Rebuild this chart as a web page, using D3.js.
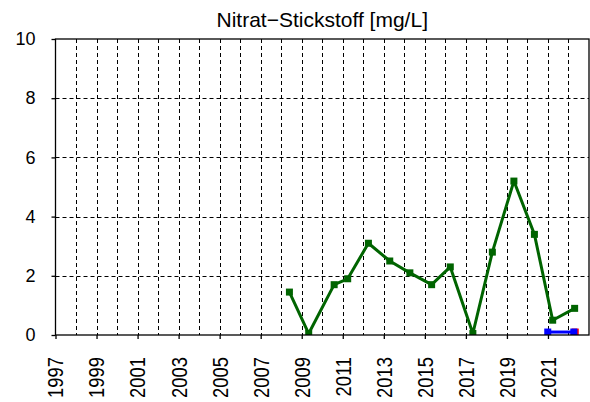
<!DOCTYPE html>
<html>
<head>
<meta charset="utf-8">
<script src="https://cdn.jsdelivr.net/npm/d3@7"></script>
<style>
  html, body { margin: 0; padding: 0; background: #fff; }
  svg { display: block; font-family: "Liberation Sans", Arial, Helvetica, sans-serif; }
</style>
</head>
<body>
<svg id="chart" width="590" height="402"></svg>
<script>
// Nitrate nitrogen measurements (sample date as decimal year, value in mg/L)
const nitratYears  = [2008.40, 2009.34, 2010.58, 2011.24, 2012.25, 2013.29, 2014.27, 2015.33, 2016.24, 2017.34, 2018.29, 2019.34, 2020.34, 2021.23, 2022.30];
const nitratValues = [1.45, 0.05, 1.7, 1.9, 3.1, 2.5, 2.1, 1.7, 2.3, 0.05, 2.8, 5.2, 3.4, 0.5, 0.9];

// Second station (blue) and third station (red)
const blueYears  = [2020.99, 2022.26];
const blueValues = [0.1, 0.1];
const redYears   = [2022.33];
const redValues  = [0.1];

const yTicks = [0, 2, 4, 6, 8, 10];
const xTickLabels = ["1997", "1999", "2001", "2003", "2005", "2007", "2009", "2011", "2013", "2015", "2017", "2019", "2021"];
const gridYears = d3.range(1998, 2023);
const title = "Nitrat\u2212Stickstoff [mg/L]";

const svg = d3.select("#chart");
const plotLeft = 55.5, plotRight = 589, plotTop = 39, plotBottom = 335;

const x = d3.scaleLinear().domain([1997, 2023]).range([plotLeft, plotRight]);
const y = d3.scaleLinear().domain([0, 10]).range([plotBottom, plotTop]);

// clip marks to the plotting region
svg.append("clipPath").attr("id", "plotclip")
  .append("rect").attr("x", plotLeft).attr("y", plotTop)
  .attr("width", plotRight - plotLeft).attr("height", plotBottom - plotTop);

// dashed grid
const grid = svg.append("g").attr("stroke", "#000").attr("stroke-width", 1)
  .attr("stroke-dasharray", "4,3").attr("fill", "none");
grid.selectAll("line.v").data(gridYears).join("line")
  .attr("x1", d => Math.round(x(d)) + 0.5).attr("x2", d => Math.round(x(d)) + 0.5)
  .attr("y1", plotTop).attr("y2", plotBottom);
grid.selectAll("line.h").data(yTicks.filter(d => d > 0 && d < 10)).join("line")
  .attr("x1", plotLeft).attr("x2", plotRight)
  .attr("y1", d => Math.round(y(d)) + 0.5).attr("y2", d => Math.round(y(d)) + 0.5);

// series
const plot = svg.append("g").attr("clip-path", "url(#plotclip)");
function series(xs, vs, color) {
  const pts = xs.map((d, i) => [d, vs[i]]);
  plot.append("path").datum(pts)
    .attr("fill", "none").attr("stroke", color).attr("stroke-width", 3).attr("stroke-linejoin", "round")
    .attr("d", d3.line().x(d => x(d[0])).y(d => y(d[1])));
  plot.selectAll(null).data(pts).join("rect")
    .attr("x", d => x(d[0]) - 3.5).attr("y", d => y(d[1]) - 3.5)
    .attr("width", 7).attr("height", 7).attr("fill", color);
}
series(redYears, redValues, "#ff0000");
series(blueYears, blueValues, "#0000ff");
series(nitratYears, nitratValues, "#006400");

// frame
svg.append("rect").attr("x", plotLeft).attr("y", plotTop)
  .attr("width", plotRight - plotLeft).attr("height", plotBottom - plotTop)
  .attr("fill", "none").attr("stroke", "#000").attr("stroke-width", 1.3);

// y axis
const yAxis = svg.append("g").attr("transform", `translate(${plotLeft},0)`)
  .call(d3.axisLeft(y).tickValues(yTicks).tickSize(4).tickPadding(16).tickFormat(d3.format("d")));
yAxis.select(".domain").remove();
yAxis.selectAll("line").attr("stroke-width", 1.3);
yAxis.selectAll("text").attr("font-size", 18).attr("fill", "#000");

// x axis with rotated year labels
const xAxis = svg.append("g").attr("transform", `translate(0,${plotBottom})`)
  .call(d3.axisBottom(x).tickValues(xTickLabels.map(Number)).tickSize(4).tickFormat((d, i) => xTickLabels[i]));
xAxis.select(".domain").remove();
xAxis.selectAll("line").attr("stroke-width", 1.3);
xAxis.selectAll("text")
  .attr("font-size", 18.4).attr("fill", "#000")
  .attr("transform", "rotate(-90) scale(1,1.15)")
  .attr("text-anchor", "end").attr("dy", "0.35em")
  .attr("x", -22).attr("y", 0);

// title
svg.append("text").attr("x", (plotLeft + plotRight) / 2).attr("y", 27).attr("text-anchor", "middle")
  .attr("font-size", 21).attr("fill", "#000").text(title);
</script>
</body>
</html>
